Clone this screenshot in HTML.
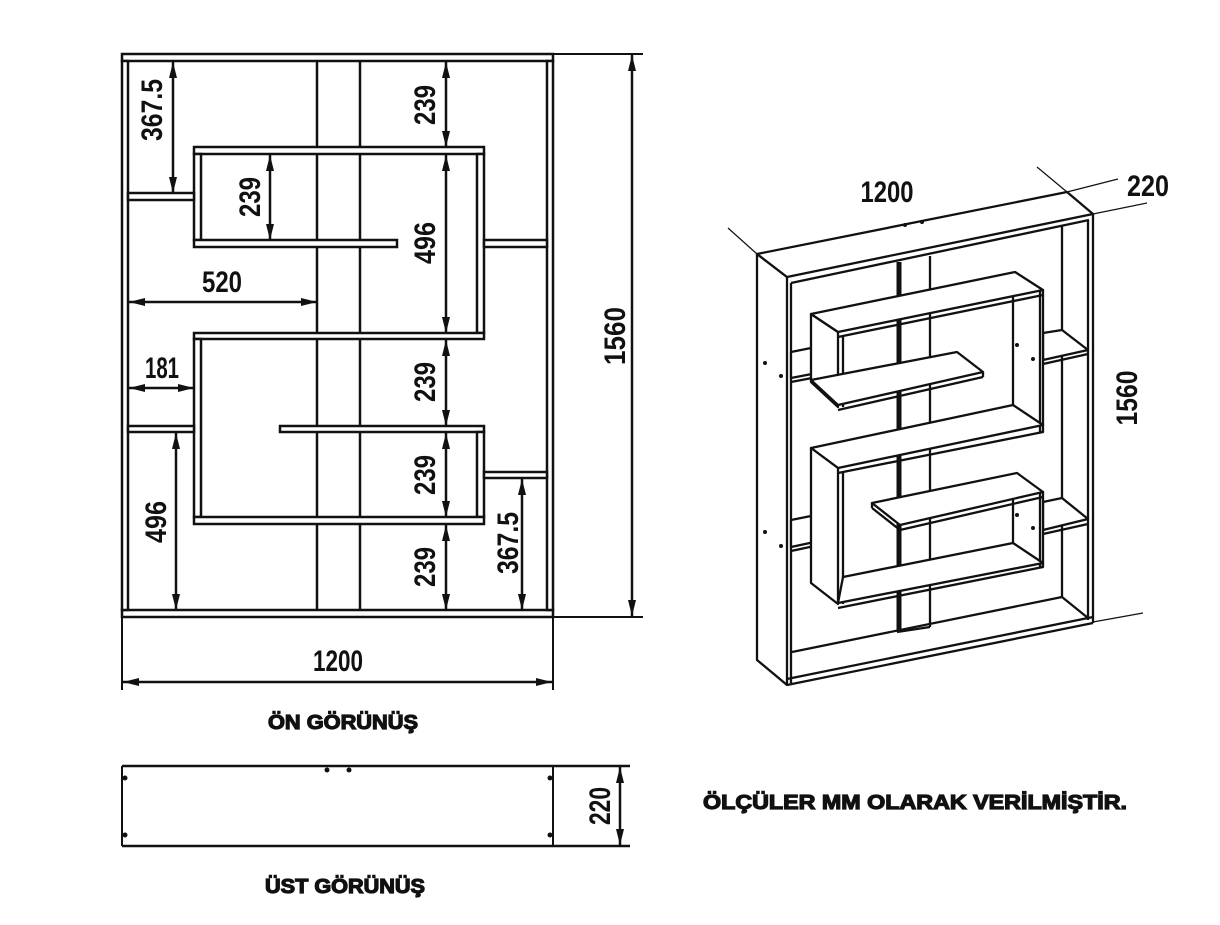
<!DOCTYPE html>
<html><head><meta charset="utf-8"><style>
html,body{margin:0;padding:0;background:#fff;}
svg{display:block;}
text{font-family:"Liberation Sans Narrow","Liberation Sans",sans-serif;font-weight:bold;fill:#111;}
.h{font-family:"Liberation Sans",sans-serif;font-weight:bold;stroke:#111;stroke-width:1.2;}
</style></head><body>
<svg width="1220" height="925" viewBox="0 0 1220 925" xmlns="http://www.w3.org/2000/svg">
<defs>
<marker id="a" viewBox="0 0 16 8" refX="16" refY="4" markerWidth="16" markerHeight="8" markerUnits="userSpaceOnUse" orient="auto-start-reverse"><path d="M0,0 L16,4 L0,8 z" fill="#111"/></marker>
</defs>
<g stroke="#111" stroke-width="2.5" fill="#fff">
<!-- FRONT VIEW -->
<line x1="317" y1="61" x2="317" y2="610"/>
<line x1="360" y1="61" x2="360" y2="610"/>
<rect x="122" y="54" width="431" height="7"/>
<rect x="122" y="610" width="431" height="7"/>
<rect x="122" y="61" width="6" height="549"/>
<rect x="547" y="61" width="6" height="549"/>
<rect x="194" y="147" width="290" height="7"/>
<rect x="477" y="154" width="7" height="179"/>
<rect x="194" y="154" width="7" height="86"/>
<rect x="194" y="240" width="203" height="7"/>
<rect x="128" y="193" width="66" height="7"/>
<rect x="484" y="240" width="63" height="7"/>
<rect x="194" y="333" width="290" height="6"/>
<rect x="194" y="339" width="7" height="178"/>
<rect x="128" y="426" width="66" height="6"/>
<rect x="280" y="426" width="204" height="6"/>
<rect x="477" y="432" width="7" height="85"/>
<rect x="194" y="517" width="290" height="7"/>
<rect x="484" y="472" width="63" height="6"/>
</g>
<g stroke="#111" stroke-width="2.5" fill="none">
<line x1="173" y1="62" x2="173" y2="193" marker-start="url(#a)" marker-end="url(#a)"/>
<line x1="446" y1="62" x2="446" y2="147" marker-start="url(#a)" marker-end="url(#a)"/>
<line x1="270" y1="155" x2="270" y2="240" marker-start="url(#a)" marker-end="url(#a)"/>
<line x1="446" y1="155" x2="446" y2="333" marker-start="url(#a)" marker-end="url(#a)"/>
<line x1="129" y1="302" x2="317" y2="302" marker-start="url(#a)" marker-end="url(#a)"/>
<line x1="129" y1="388" x2="194" y2="388" marker-start="url(#a)" marker-end="url(#a)"/>
<line x1="446" y1="340" x2="446" y2="426" marker-start="url(#a)" marker-end="url(#a)"/>
<line x1="446" y1="433" x2="446" y2="517" marker-start="url(#a)" marker-end="url(#a)"/>
<line x1="446" y1="525" x2="446" y2="610" marker-start="url(#a)" marker-end="url(#a)"/>
<line x1="176" y1="433" x2="176" y2="610" marker-start="url(#a)" marker-end="url(#a)"/>
<line x1="522" y1="479" x2="522" y2="610" marker-start="url(#a)" marker-end="url(#a)"/>
<line x1="553" y1="54" x2="643" y2="54" stroke-width="2"/>
<line x1="553" y1="617" x2="643" y2="617" stroke-width="2"/>
<line x1="632" y1="55" x2="632" y2="616" marker-start="url(#a)" marker-end="url(#a)"/>
<line x1="122" y1="617" x2="122" y2="690" stroke-width="2"/>
<line x1="553" y1="617" x2="553" y2="690" stroke-width="2"/>
<line x1="123" y1="682" x2="552" y2="682" marker-start="url(#a)" marker-end="url(#a)"/>
<!-- TOP VIEW -->
<line x1="122" y1="766" x2="630" y2="766"/>
<line x1="122" y1="846" x2="630" y2="846"/>
<line x1="122" y1="766" x2="122" y2="846" stroke-width="2"/>
<line x1="553" y1="766" x2="553" y2="846" stroke-width="2"/>
<line x1="620" y1="767" x2="620" y2="845" marker-start="url(#a)" marker-end="url(#a)"/>
</g>
<g fill="#111">
<circle cx="125" cy="778" r="2.5"/><circle cx="125" cy="835" r="2.5"/>
<circle cx="550" cy="778" r="2.5"/><circle cx="550" cy="835" r="2.5"/>
<circle cx="327" cy="770" r="2.5"/><circle cx="349" cy="770" r="2.5"/>
</g>
<g font-size="30">
<text transform="translate(151,110) rotate(-90)" text-anchor="middle" dy="11" textLength="62" lengthAdjust="spacingAndGlyphs">367.5</text>
<text transform="translate(424,105) rotate(-90)" text-anchor="middle" dy="11" textLength="40" lengthAdjust="spacingAndGlyphs">239</text>
<text transform="translate(249,197) rotate(-90)" text-anchor="middle" dy="11" textLength="40" lengthAdjust="spacingAndGlyphs">239</text>
<text transform="translate(424,243) rotate(-90)" text-anchor="middle" dy="11" textLength="42" lengthAdjust="spacingAndGlyphs">496</text>
<text x="222" y="292" text-anchor="middle" textLength="40" lengthAdjust="spacingAndGlyphs">520</text>
<text transform="translate(614,336) rotate(-90)" text-anchor="middle" dy="11" textLength="58" lengthAdjust="spacingAndGlyphs">1560</text>
<text x="162" y="378" text-anchor="middle" textLength="34" lengthAdjust="spacingAndGlyphs">181</text>
<text transform="translate(424,382) rotate(-90)" text-anchor="middle" dy="11" textLength="40" lengthAdjust="spacingAndGlyphs">239</text>
<text transform="translate(424,475) rotate(-90)" text-anchor="middle" dy="11" textLength="40" lengthAdjust="spacingAndGlyphs">239</text>
<text transform="translate(424,567) rotate(-90)" text-anchor="middle" dy="11" textLength="40" lengthAdjust="spacingAndGlyphs">239</text>
<text transform="translate(155,522) rotate(-90)" text-anchor="middle" dy="11" textLength="42" lengthAdjust="spacingAndGlyphs">496</text>
<text transform="translate(507,543) rotate(-90)" text-anchor="middle" dy="11" textLength="62" lengthAdjust="spacingAndGlyphs">367.5</text>
<text x="338" y="671" text-anchor="middle" textLength="50" lengthAdjust="spacingAndGlyphs">1200</text>
<text transform="translate(599,806) rotate(-90)" text-anchor="middle" dy="11" textLength="38" lengthAdjust="spacingAndGlyphs">220</text>
<text x="887" y="202" text-anchor="middle" textLength="53" lengthAdjust="spacingAndGlyphs">1200</text>
<text x="1148" y="196" text-anchor="middle" textLength="42" lengthAdjust="spacingAndGlyphs">220</text>
<text transform="translate(1126,398) rotate(-90)" text-anchor="middle" dy="11" textLength="55" lengthAdjust="spacingAndGlyphs">1560</text>
</g>
<g font-size="20" class="h">
<text class="h" x="343" y="729" text-anchor="middle" textLength="150" lengthAdjust="spacingAndGlyphs">ÖN GÖRÜNÜŞ</text>
<text class="h" x="345" y="893" text-anchor="middle" textLength="160" lengthAdjust="spacingAndGlyphs">ÜST GÖRÜNÜŞ</text>
<text class="h" x="703" y="809" textLength="424" lengthAdjust="spacingAndGlyphs">ÖLÇÜLER MM OLARAK VERİLMİŞTİR.</text>
</g>
<!-- ISOMETRIC -->
<g stroke="#111" stroke-width="1.2" fill="none">
<line x1="728" y1="228" x2="757" y2="254"/>
<line x1="1037" y1="167" x2="1067" y2="192"/>
<line x1="1067" y1="192" x2="1118" y2="179"/>
<line x1="1093" y1="214" x2="1147" y2="203"/>
<line x1="1093" y1="622" x2="1143" y2="613"/>
</g>
<g stroke="#111" stroke-width="2.3" fill="#fff" stroke-linejoin="round">
<polygon points="757,254 787,277 787,685 757,660"/>
<polygon points="757,254 1067,192 1093,214 787,277"/>
<line x1="791" y1="283" x2="1089" y2="220"/>
<line x1="791" y1="283" x2="791" y2="683"/>
<line x1="1088" y1="220" x2="1088" y2="620"/>
<line x1="1093" y1="214" x2="1093" y2="623"/>
<line x1="1062" y1="226" x2="1062" y2="597"/>
<polyline points="792,652 1062,597 1088,618"/>
<line x1="787" y1="679" x2="1093" y2="617"/>
<line x1="787" y1="685" x2="1093" y2="623"/>
<!-- post -->
<line x1="899" y1="262" x2="899" y2="632" stroke-width="5"/>
<line x1="930" y1="256" x2="930" y2="627"/>
<line x1="897" y1="632" x2="930" y2="627"/>
<!-- short shelves -->
<polygon points="791,352 811,348 838,369 791,378"/>
<line x1="791" y1="382" x2="838" y2="373"/>
<polygon points="791,520 811,516 838,537 791,547"/>
<line x1="791" y1="551" x2="838" y2="541"/>
<polygon points="1043,333 1062,330 1088,350 1043,360"/>
<line x1="1043" y1="364" x2="1088" y2="354"/>
<polygon points="1043,502 1062,498 1088,519 1043,530"/>
<line x1="1043" y1="534" x2="1088" y2="524"/>
<!-- upper box -->
<polygon points="811,314 838,332 838,407 811,382"/>
<line x1="843" y1="337" x2="843" y2="407"/>
<line x1="1013" y1="282" x2="1013" y2="405"/>
<polygon points="1040,290 1043,290 1043,432 1040,432"/>
<polygon points="811,314 1015,272 1043,290 838,332"/>
<line x1="838" y1="337" x2="1043" y2="295"/>
<polygon points="811,380 957,352 983,372 838,405"/>
<line x1="838" y1="410" x2="983" y2="377"/>
<line x1="983" y1="372" x2="983" y2="377"/>
<!-- middle shelf -->
<polygon points="811,448 1013,405 1043,425 838,468"/>
<line x1="838" y1="473" x2="1043" y2="432"/>
<!-- lower box -->
<polygon points="811,448 838,468 838,604 811,583"/>
<line x1="843" y1="473" x2="843" y2="604"/>
<line x1="1013" y1="475" x2="1013" y2="543"/>
<polygon points="1040,492 1043,492 1043,567 1040,567"/>
<polygon points="843,577 1013,543 1043,563 838,603"/>
<line x1="838" y1="608" x2="1043" y2="567"/>
<polygon points="872,503 1017,473 1043,492 900,525"/>
<line x1="900" y1="530" x2="1043" y2="497"/>
<line x1="872" y1="503" x2="872" y2="508"/>
<line x1="872" y1="508" x2="900" y2="530"/>
</g>
<g fill="#111">
<circle cx="765" cy="363" r="2"/><circle cx="781" cy="376" r="2"/>
<circle cx="765" cy="532" r="2"/><circle cx="781" cy="546" r="2"/>
<circle cx="1017" cy="345" r="2"/><circle cx="1033" cy="359" r="2"/>
<circle cx="1017" cy="515" r="2"/><circle cx="1033" cy="528" r="2"/>
<circle cx="905" cy="225" r="2"/><circle cx="922" cy="222" r="2"/>
</g>
</svg>
</body></html>
